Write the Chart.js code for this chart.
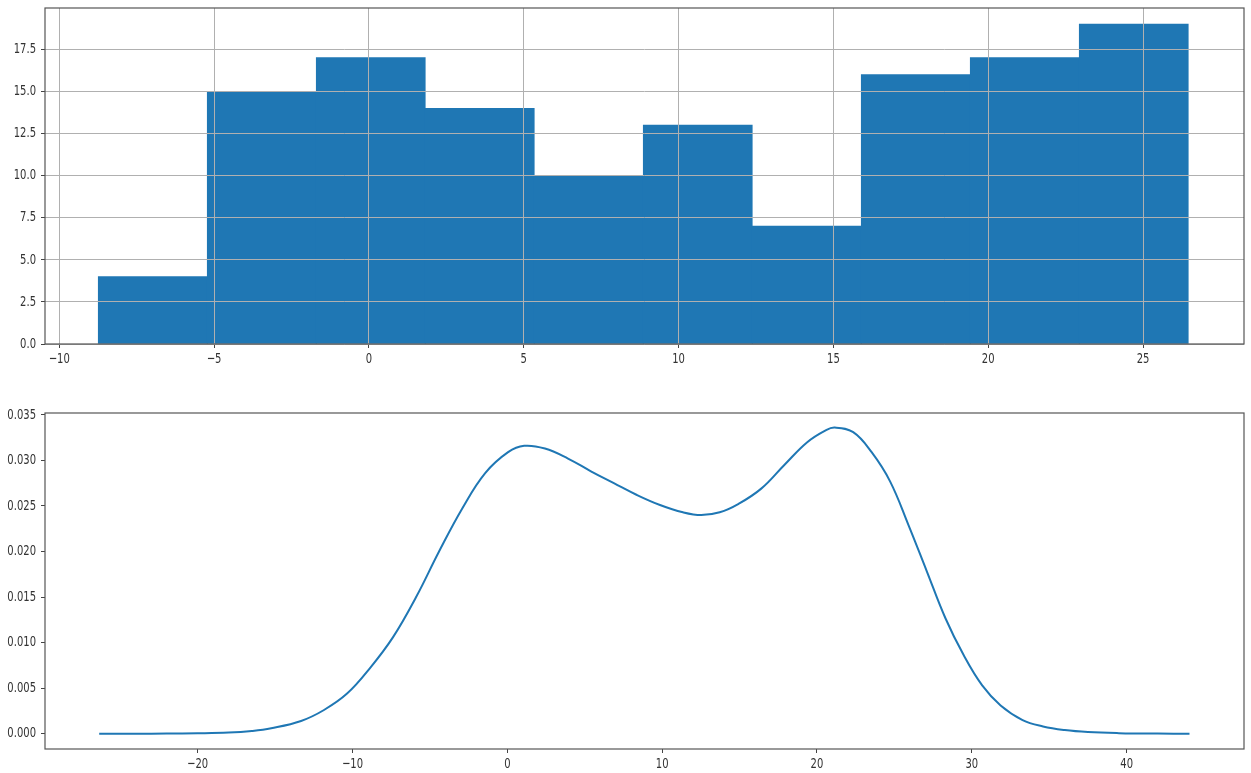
<!DOCTYPE html>
<html>
<head>
<meta charset="utf-8">
<script src="https://cdn.jsdelivr.net/npm/chart.js@4/dist/chart.umd.min.js"></script>
<style>
  html, body { margin: 0; padding: 0; background: #fff; }
  body { width: 1251px; height: 773px; position: relative; overflow: hidden; }
  canvas { position: absolute; left: 0; }
  #hist { top: 0; }
  #kde { top: 395px; }
</style>
</head>
<body>
<canvas id="hist" width="1251" height="380"></canvas>
<canvas id="kde" width="1251" height="378"></canvas>
<script>
// Histogram: bin edges and counts per bin
const binEdges = [-8.74, -5.22, -1.70, 1.82, 5.34, 8.86, 12.38, 15.90, 19.42, 22.94, 26.46];
const binCounts = [4, 15, 17, 14, 10, 13, 7, 16, 17, 19];

const histXTicks = [-10, -5, 0, 5, 10, 15, 20, 25];
const histXLabels = ['\u221210', '\u22125', '0', '5', '10', '15', '20', '25'];
const histYTicks = [0, 2.5, 5, 7.5, 10, 12.5, 15, 17.5];
const histYLabels = ['0.0', '2.5', '5.0', '7.5', '10.0', '12.5', '15.0', '17.5'];

// Density estimate: sample positions and density values
const kdeX = [-26.36, -24, -22, -20, -18, -16.5, -15.25, -13.32, -11.84, -10.35, -8.87,
  -7.38, -5.89, -4.41, -2.92, -1.43, 0.05, 1.09, 2.43, 3.92, 5.40, 6.88, 8.37, 9.86,
  11.34, 12.53, 13.72, 14.91, 16.40, 17.89, 19.37, 20.56, 21.15, 22.34, 23.53, 24.72,
  25.91, 27.10, 28.29, 29.48, 30.67, 31.86, 33.28, 34.6, 36.0, 37.5, 39.5, 42.0, 44.06];
const kdeY = [0.0, 0.000003, 0.00001, 0.00004, 0.00012, 0.0003, 0.0006, 0.0014, 0.0026,
  0.0044, 0.0072, 0.0106, 0.0150, 0.0200, 0.0247, 0.0286, 0.0309, 0.0316, 0.0313, 0.0302,
  0.0288, 0.0275, 0.0262, 0.0251, 0.0243, 0.0240, 0.0243, 0.0252, 0.0269, 0.0295, 0.0320,
  0.0333, 0.0336, 0.0331, 0.0309, 0.0277, 0.0229, 0.0178, 0.0127, 0.0086, 0.0053, 0.0031,
  0.0015, 0.0008, 0.0004, 0.00018, 0.00006, 0.00001, 0.0];

const kdeXTicks = [-20, -10, 0, 10, 20, 30, 40];
const kdeXLabels = ['\u221220', '\u221210', '0', '10', '20', '30', '40'];
const kdeYTicks = [0, 0.005, 0.010, 0.015, 0.020, 0.025, 0.030, 0.035];
const kdeYLabels = ['0.000', '0.005', '0.010', '0.015', '0.020', '0.025', '0.030', '0.035'];

const BLUE = '#1f77b4';
const TEXT = '#333333';
const SQUEEZE = 0.69;   // narrow glyph width for the tick text

// Draws tick labels with narrowed glyphs, plus the frame around the plot area
const axesDecor = {
  id: 'axesDecor',
  afterDraw(chart, args, opts) {
    const ctx = chart.ctx;
    const area = chart.chartArea;
    const sx = chart.scales.x, sy = chart.scales.y;
    ctx.save();
    ctx.strokeStyle = '#555555';
    ctx.lineWidth = 1.2;
    ctx.strokeRect(area.left, area.top, area.right - area.left, area.bottom - area.top);
    ctx.fillStyle = TEXT;
    ctx.font = '14.5px "DejaVu Sans"';
    ctx.textBaseline = 'middle';
    opts.xTicks.forEach((v, i) => {
      ctx.save();
      ctx.translate(sx.getPixelForValue(v), area.bottom + 15.5);
      ctx.scale(SQUEEZE, 1);
      ctx.textAlign = 'center';
      ctx.fillText(opts.xLabels[i], 0, 0);
      ctx.restore();
    });
    opts.yTicks.forEach((v, i) => {
      ctx.save();
      ctx.translate(area.left - 9, sy.getPixelForValue(v));
      ctx.scale(SQUEEZE, 1);
      ctx.textAlign = 'right';
      ctx.fillText(opts.yLabels[i], 0, 0);
      ctx.restore();
    });
    ctx.restore();
  }
};

function fixedTicks(values) {
  return scale => { scale.ticks = values.map(v => ({ value: v })); };
}

const binCenters = binCounts.map((_, i) => (binEdges[i] + binEdges[i + 1]) / 2);

new Chart(document.getElementById('hist'), {
  type: 'bar',
  data: {
    datasets: [{
      data: binCenters.map((c, i) => ({ x: c, y: binCounts[i] })),
      backgroundColor: BLUE,
      borderWidth: 0,
      barPercentage: 1,
      categoryPercentage: 1
    }]
  },
  options: {
    responsive: false,
    animation: false,
    devicePixelRatio: 1,
    layout: { padding: { top: 8, right: 7, left: 0, bottom: 0 } },
    plugins: {
      legend: { display: false },
      tooltip: { enabled: false },
      axesDecor: { xTicks: histXTicks, xLabels: histXLabels, yTicks: histYTicks, yLabels: histYLabels }
    },
    scales: {
      x: {
        type: 'linear', min: -10.46, max: 28.26, offset: false,
        grid: { z: 1, offset: false, color: '#b0b0b0', lineWidth: 1, tickLength: 4, tickColor: '#444444' },
        border: { display: false },
        ticks: { display: false },
        afterBuildTicks: fixedTicks(histXTicks),
        afterFit: s => { s.height = 36; }
      },
      y: {
        min: 0, max: 19.95,
        grid: { z: 1, color: '#b0b0b0', lineWidth: 1, tickLength: 4, tickColor: '#444444' },
        border: { display: false },
        ticks: { display: false },
        afterBuildTicks: fixedTicks(histYTicks),
        afterFit: s => { s.width = 45; }
      }
    }
  },
  plugins: [axesDecor]
});

new Chart(document.getElementById('kde'), {
  type: 'line',
  data: {
    datasets: [{
      data: kdeX.map((x, i) => ({ x: x, y: kdeY[i] })),
      borderColor: BLUE,
      borderWidth: 2,
      pointRadius: 0,
      fill: false,
      tension: 0.4
    }]
  },
  options: {
    responsive: false,
    animation: false,
    devicePixelRatio: 1,
    layout: { padding: { top: 18, right: 7, left: 0, bottom: 0 } },
    plugins: {
      legend: { display: false },
      tooltip: { enabled: false },
      axesDecor: { xTicks: kdeXTicks, xLabels: kdeXLabels, yTicks: kdeYTicks, yLabels: kdeYLabels }
    },
    scales: {
      x: {
        type: 'linear', min: -29.86, max: 47.58,
        grid: { drawOnChartArea: false, tickLength: 4, tickColor: '#444444' },
        border: { display: false },
        ticks: { display: false },
        afterBuildTicks: fixedTicks(kdeXTicks),
        afterFit: s => { s.height = 24; }
      },
      y: {
        min: -0.00168, max: 0.0352,
        grid: { drawOnChartArea: false, tickLength: 4, tickColor: '#444444' },
        border: { display: false },
        ticks: { display: false },
        afterBuildTicks: fixedTicks(kdeYTicks),
        afterFit: s => { s.width = 45; }
      }
    }
  },
  plugins: [axesDecor]
});
</script>
</body>
</html>
